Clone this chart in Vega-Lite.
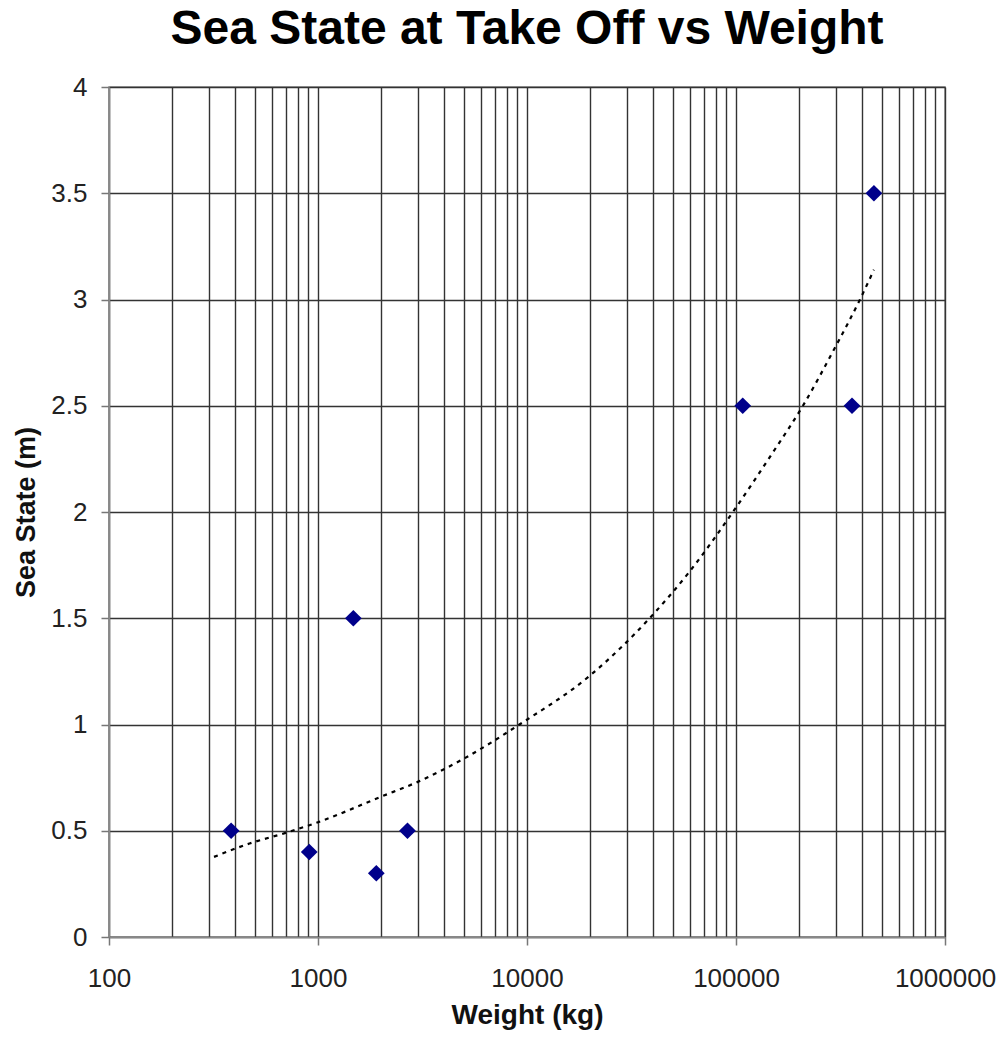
{
  "$schema": "https://vega.github.io/schema/vega-lite/v6.json",
  "autosize": "none",
  "width": 836,
  "height": 850,
  "padding": {"left": 109, "top": 87, "right": 62, "bottom": 101},
  "background": "white",
  "title": {
    "text": "Sea State at Take Off vs Weight",
    "font": "Liberation Sans",
    "fontSize": 48,
    "fontWeight": "bold",
    "color": "black",
    "anchor": "middle",
    "frame": "group",
    "baseline": "alphabetic",
    "offset": 42,
    "dy": 60
  },
  "config": {
    "view": {"stroke": "#888", "strokeWidth": 1.5},
    "axis": {
      "labelFont": "Liberation Sans",
      "titleFont": "Liberation Sans",
      "labelColor": "#222",
      "titleColor": "#111",
      "domainColor": "#888",
      "domainWidth": 1.5,
      "tickColor": "#777",
      "gridColor": "#333",
      "gridOpacity": 1,
      "gridWidth": 1.4
    }
  },
  "datasets": {
    "obs": [
      {"weight": 384, "sea": 0.5},
      {"weight": 908, "sea": 0.4},
      {"weight": 1476, "sea": 1.5},
      {"weight": 1901, "sea": 0.3},
      {"weight": 2680, "sea": 0.5},
      {"weight": 107700, "sea": 2.5},
      {"weight": 359000, "sea": 2.5},
      {"weight": 457000, "sea": 3.5}
    ],
    "trend": [
      {"weight": 318, "sea": 0.377},
      {"weight": 470, "sea": 0.44},
      {"weight": 700, "sea": 0.49},
      {"weight": 1000, "sea": 0.54},
      {"weight": 2000, "sea": 0.66},
      {"weight": 3000, "sea": 0.73},
      {"weight": 5000, "sea": 0.84},
      {"weight": 9200, "sea": 1.0},
      {"weight": 20000, "sea": 1.23},
      {"weight": 38600, "sea": 1.5},
      {"weight": 60000, "sea": 1.72},
      {"weight": 96600, "sea": 2.0},
      {"weight": 150000, "sea": 2.28},
      {"weight": 209000, "sea": 2.5},
      {"weight": 300000, "sea": 2.78},
      {"weight": 392000, "sea": 3.0},
      {"weight": 457000, "sea": 3.14}
    ]
  },
  "layer": [
    {
      "data": {"name": "trend"},
      "mark": {"type": "line", "color": "black", "strokeWidth": 2.2, "strokeDash": [4, 5], "interpolate": "monotone", "clip": true},
      "encoding": {
        "x": {
          "field": "weight",
          "type": "quantitative",
          "scale": {"type": "log", "domain": [100, 1000000], "nice": false},
          "axis": {
            "title": "Weight (kg)",
            "titleFontSize": 28,
            "titleFontWeight": "bold",
            "titlePadding": 10,
            "labelFontSize": 26,
            "labelPadding": 20,
            "tickSize": 8,
            "tickWidth": 1.5,
            "labelOverlap": false,
            "labelFlush": false,
            "values": [100,200,300,400,500,600,700,800,900,1000,2000,3000,4000,5000,6000,7000,8000,9000,10000,20000,30000,40000,50000,60000,70000,80000,90000,100000,200000,300000,400000,500000,600000,700000,800000,900000,1000000],
            "labelExpr": "abs(round(log(datum.value)/LN10) - log(datum.value)/LN10) < 0.000001 ? format(datum.value, 'd') : ''",
            "tickOpacity": {"condition": {"test": "abs(round(log(datum.value)/LN10) - log(datum.value)/LN10) < 0.000001", "value": 1}, "value": 0}
          }
        },
        "y": {
          "field": "sea",
          "type": "quantitative",
          "scale": {"domain": [0, 4], "nice": false, "zero": true},
          "axis": {
            "title": "Sea State (m)",
            "titleFontSize": 27,
            "titleFontWeight": "bold",
            "titlePadding": 10,
            "labelFontSize": 26,
            "labelPadding": 14,
            "tickSize": 8,
            "tickWidth": 1.5,
            "values": [0, 0.5, 1, 1.5, 2, 2.5, 3, 3.5, 4],
            "format": "~g"
          }
        }
      }
    },
    {
      "data": {"name": "obs"},
      "mark": {"type": "point", "shape": "diamond", "filled": true, "color": "#00008B", "opacity": 1, "size": 280},
      "encoding": {
        "x": {"field": "weight", "type": "quantitative"},
        "y": {"field": "sea", "type": "quantitative"}
      }
    }
  ]
}
